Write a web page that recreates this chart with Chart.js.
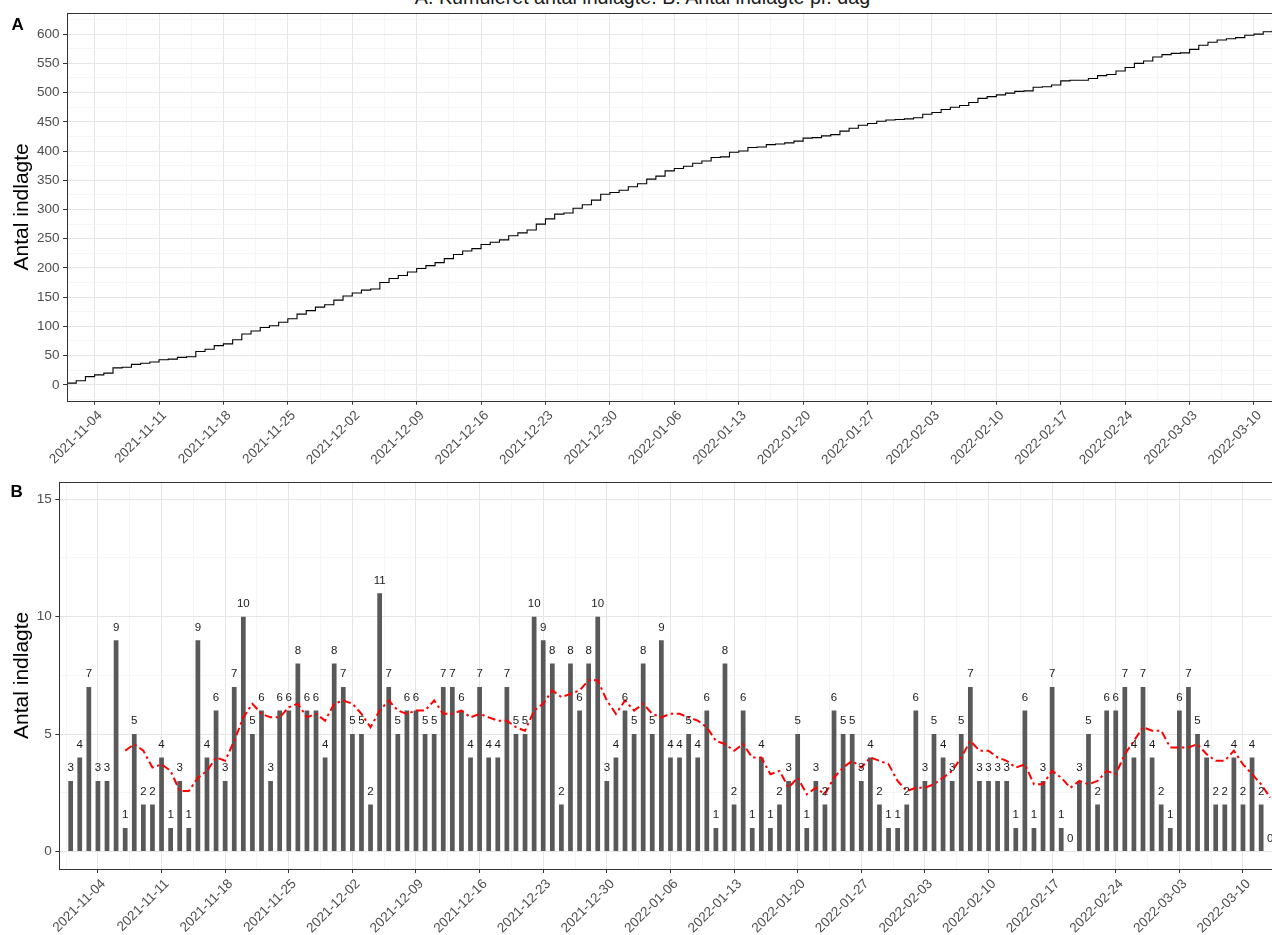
<!DOCTYPE html>
<html>
<head>
<meta charset="utf-8">
<script src="https://cdn.jsdelivr.net/npm/chart.js@4.4.1/dist/chart.umd.min.js"></script>
<style>
  html, body { margin: 0; padding: 0; background: #fff; width: 1272px; height: 935px; overflow: hidden; }
  #wrap { position: relative; width: 1272px; height: 935px; overflow: hidden; }
  canvas { position: absolute; left: 0; }
  .tag { position: absolute; font: bold 17px "Liberation Sans", Arial, sans-serif; line-height: 17px; color: #000; }
  #title { position: absolute; left: 0; top: -13.3px; width: 1285px; text-align: center; white-space: nowrap;
           font: 19.7px "Liberation Sans", Arial, sans-serif; line-height: 20px; color: #1a1a1a; }
</style>
</head>
<body>
<div id="wrap">
  <div id="title">A: Kumuleret antal indlagte. B: Antal indlagte pr. dag</div>
  <canvas id="cumChart" width="1300" height="470" style="top:0"></canvas>
  <canvas id="dailyChart" width="1300" height="465" style="top:470px"></canvas>
  <div class="tag" style="left:11.5px; top:16.3px">A</div>
  <div class="tag" style="left:10.5px; top:482.9px">B</div>
</div>
<script>
// First day of the series; every other date is placed as a day offset from it.
const startDate = '2021-11-01';

// Admissions per day, 2021-11-01 .. 2022-03-13
const dailyAdmissions = [
  3,4,7,3,3,9,1,5,2,2,4,1,3,1,9,4,6,3,7,10,5,6,3,6,6,8,6,6,4,8,
  7,5,5,2,11,7,5,6,6,5,5,7,7,6,4,7,4,4,7,5,5,10,9,8,2,8,6,8,10,3,4,
  6,5,8,5,9,4,4,5,4,6,1,8,2,6,1,4,1,2,3,5,1,3,2,6,5,5,3,4,2,1,1,
  2,6,3,5,4,3,5,7,3,3,3,3,1,6,1,3,7,1,0,3,5,2,6,6,7,4,7,4,
  2,1,6,7,5,4,2,2,4,2,4,2,0
];

// Running total of admissions
const cumulativeAdmissions = [
  3,7,14,17,20,29,30,35,37,39,43,44,47,48,57,61,67,70,77,87,92,98,101,107,113,121,127,133,137,145,
  152,157,162,164,175,182,187,193,199,204,209,216,223,229,233,240,244,248,255,260,265,275,284,292,294,302,308,316,326,329,333,
  339,344,352,357,366,370,374,379,383,389,390,398,400,406,407,411,412,414,417,422,423,426,428,434,439,444,447,451,453,454,455,
  457,463,466,471,475,478,483,490,493,496,499,502,503,509,510,513,520,521,521,524,529,531,537,543,550,554,561,565,
  567,568,574,581,586,590,592,594,598,600,604,606,606
];

// 7-day average of daily admissions (no value for the first six days)
const weeklyAverage = [
  null,null,null,null,null,null,4.29,4.57,4.29,3.57,3.71,3.43,2.57,2.57,3.14,3.43,4.00,3.86,4.71,5.71,6.29,5.86,5.71,5.71,6.14,6.29,5.71,5.86,5.57,6.29,
  6.43,6.29,5.86,5.29,6.00,6.43,6.00,5.86,6.00,6.00,6.43,5.86,5.86,6.00,5.71,5.86,5.71,5.57,5.57,5.29,5.14,6.00,6.29,6.86,6.57,6.71,6.86,7.29,7.29,6.43,5.86,
  6.43,6.00,6.29,5.86,5.71,5.86,5.86,5.71,5.57,5.29,4.71,4.57,4.29,4.57,4.00,4.00,3.29,3.43,2.71,3.14,2.43,2.71,2.43,3.14,3.57,3.86,3.57,4.00,3.86,3.71,3.00,
  2.57,2.71,2.71,2.86,3.14,3.43,4.00,4.71,4.29,4.29,4.00,3.86,3.57,3.71,2.86,2.86,3.43,3.14,2.71,3.00,2.86,3.00,3.43,3.29,4.14,4.71,5.29,5.14,
  5.14,4.43,4.43,4.43,4.57,4.14,3.86,3.86,4.29,3.71,3.29,2.86,2.29
];

// Date tick labels on both x axes
const dateTicks = [
  '2021-11-04','2021-11-11','2021-11-18','2021-11-25','2021-12-02','2021-12-09','2021-12-16',
  '2021-12-23','2021-12-30','2022-01-06','2022-01-13','2022-01-20','2022-01-27','2022-02-03',
  '2022-02-10','2022-02-17','2022-02-24','2022-03-03','2022-03-10'
];
const cumTicks = [0,50,100,150,200,250,300,350,400,450,500,550,600];
const dailyTicks = [0,5,10,15];

const FONT = '"Liberation Sans", Arial, sans-serif';
const dayIndex = d => Math.round((Date.parse(d + 'T00:00:00Z') - Date.parse(startDate + 'T00:00:00Z')) / 864e5);
const majorX = dateTicks.map(dayIndex);

// minor grid positions sit halfway between the major ones (plus one step beyond each end)
function halfSteps(major) {
  const step = major[1] - major[0];
  const out = [major[0] - step / 2];
  major.forEach(v => out.push(v + step / 2));
  return out;
}

function tickBuilder(major) {
  const minor = halfSteps(major);
  return scale => {
    scale.ticks = major.map(v => ({ value: v, minor: false }))
      .concat(minor.map(v => ({ value: v, minor: true })))
      .filter(t => t.value >= scale.min && t.value <= scale.max)
      .sort((a, b) => a.value - b.value);
  };
}

const gridStyle = {
  color: c => (c.tick && c.tick.minor) ? '#f1f1f1' : '#e6e6e6',
  lineWidth: c => (c.tick && c.tick.minor) ? 0.7 : 1,
  tickColor: c => (c.tick && c.tick.minor) ? 'rgba(0,0,0,0)' : '#333333',
  tickWidth: 1,
  tickLength: 4,
  drawTicks: true,
  offset: false
};

function xAxis(min, max, height) {
  return {
    type: 'linear', min, max, offset: false,
    afterBuildTicks: tickBuilder(majorX),
    afterFit: s => { s.height = height; },
    border: { display: false },
    grid: gridStyle,
    ticks: {
      autoSkip: false, maxRotation: 45, minRotation: 45, padding: 3, labelOffset: 5.5,
      color: '#4d4d4d', font: { family: FONT, size: 13.5 },
      callback: (v, i, ticks) => ticks[i].minor ? '' : dateTicks[majorX.indexOf(v)]
    }
  };
}

function yAxis(min, max, major, width) {
  return {
    type: 'linear', min, max,
    afterBuildTicks: tickBuilder(major),
    afterFit: s => { s.width = width; },
    border: { display: false },
    grid: gridStyle,
    ticks: {
      autoSkip: false, padding: 3.5,
      color: '#4d4d4d', font: { family: FONT, size: 13.5 },
      callback: (v, i, ticks) => ticks[i].minor ? '' : String(v)
    },
    title: {
      display: true, text: 'Antal indlagte', color: '#000',
      font: { family: FONT, size: 21 }, padding: { top: 9.5, bottom: 0 }
    }
  };
}

// dark frame around each panel
const panelBorder = {
  id: 'panelBorder',
  afterDraw(chart) {
    const { ctx, chartArea: a } = chart;
    ctx.save();
    ctx.strokeStyle = '#333333';
    ctx.lineWidth = 1;
    ctx.strokeRect(Math.round(a.left) + 0.5, Math.round(a.top) + 0.5,
                   Math.round(a.right - a.left), Math.round(a.bottom - a.top));
    ctx.restore();
  }
};

// count printed above every daily bar
const barValueLabels = {
  id: 'barValueLabels',
  afterDatasetsDraw(chart) {
    const meta = chart.getDatasetMeta(0);
    const ctx = chart.ctx;
    ctx.save();
    ctx.font = '11.5px ' + FONT;
    ctx.fillStyle = '#1a1a1a';
    ctx.textAlign = 'center';
    ctx.textBaseline = 'alphabetic';
    meta.data.forEach((el, i) => {
      ctx.fillText(String(dailyAdmissions[i]), el.x, el.y - 9.6);
    });
    ctx.restore();
  }
};

const common = {
  responsive: false, animation: false, devicePixelRatio: 1,
  plugins: { legend: { display: false }, tooltip: { enabled: false } },
  events: []
};

// A: cumulative admissions as a step line
new Chart(document.getElementById('cumChart'), {
  type: 'line',
  data: {
    datasets: [{
      data: cumulativeAdmissions.map((v, i) => ({ x: i, y: v })),
      stepped: 'before', borderColor: '#000', borderWidth: 1.1,
      pointRadius: 0, fill: false
    }]
  },
  options: Object.assign({}, common, {
    layout: { padding: { left: 0, top: 13, right: 18.4, bottom: 0 } },
    scales: {
      x: xAxis(0, 132, 69.3),
      y: yAxis(-27.15, 636.15, cumTicks, 67)
    }
  }),
  plugins: [panelBorder]
});

// B: admissions per day with the 7-day average
new Chart(document.getElementById('dailyChart'), {
  type: 'bar',
  data: {
    datasets: [
      {
        type: 'bar',
        data: dailyAdmissions.map((v, i) => ({ x: i, y: v })),
        backgroundColor: '#595959', borderWidth: 0,
        barPercentage: 0.52, categoryPercentage: 1, order: 2
      },
      {
        type: 'line',
        data: weeklyAverage.map((v, i) => ({ x: i, y: v })),
        borderColor: '#ff0000', borderWidth: 2, borderDash: [8, 3.5, 2.5, 3.5],
        pointRadius: 0, tension: 0, fill: false, spanGaps: false, order: 1
      }
    ]
  },
  options: Object.assign({}, common, {
    layout: { padding: { left: 0, top: 11.7, right: 18.4, bottom: 0 } },
    scales: {
      x: xAxis(-1.25, 133.25, 66),
      y: yAxis(-0.75, 15.75, dailyTicks, 59.3)
    }
  }),
  plugins: [barValueLabels, panelBorder]
});
</script>
</body>
</html>
